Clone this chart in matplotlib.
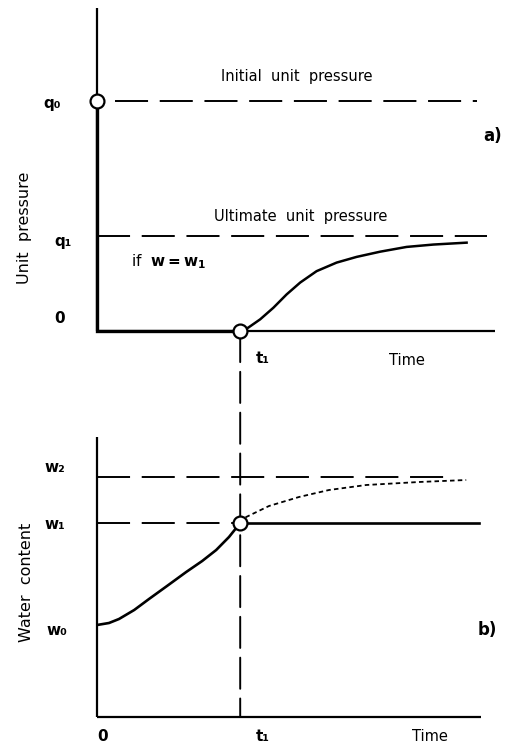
"""Consolidation sketch: unit pressure and water content against time."""
import matplotlib
matplotlib.use("Agg")
import matplotlib.pyplot as plt
from matplotlib.patches import ConnectionPatch

plt.rcParams["font.family"] = "DejaVu Sans"

# --- levels (arbitrary units)
T1 = 3.58
Q0 = 2.42
Q1 = 1.0
W0 = 0.92
W1 = 1.94
W2 = 2.40

# pressure rise after t1
p_time = [T1, 3.78, 4.08, 4.41, 4.74, 5.08, 5.49, 5.99, 6.49, 7.08, 7.74, 8.41, 9.24]
p_val = [0.0, 0.035, 0.123, 0.245, 0.385, 0.51, 0.63, 0.72, 0.78, 0.835, 0.885, 0.91, 0.93]

# water content rising from w0 to w1 before t1
w_time = [0.0, 0.3, 0.55, 0.93, 1.3, 1.75, 2.23, 2.63, 2.98, 3.3, T1]
w_val = [W0, 0.94, 0.98, 1.07, 1.18, 1.31, 1.45, 1.56, 1.67, 1.80, W1]

# water content that would keep rising towards w2 (dotted)
wd_time = [T1, 3.73, 4.3, 5.05, 5.8, 6.73, 8.05, 9.23]
wd_val = [W1, 2.0, 2.11, 2.20, 2.27, 2.32, 2.35, 2.37]

W_END = 9.55
DASH = (17, 6)

FW, FH = 507, 750
fig = plt.figure(figsize=(FW / 100, FH / 100), dpi=100)
ax_a = fig.add_axes([97 / FW, 1 - 331 / FH, 398 / FW, 323 / FH])
ax_b = fig.add_axes([97 / FW, 33 / FH, 384 / FW, 280 / FH])
ax_a.set_xlim(0, 9.95)
ax_a.set_ylim(0, 3.40)
ax_b.set_xlim(0, 9.6)
ax_b.set_ylim(0, 2.80)

for ax in (ax_a, ax_b):
    ax.set_xticks([])
    ax.set_yticks([])
    ax.patch.set_visible(False)  # let the t1 link show through
    for s in ("top", "right"):
        ax.spines[s].set_visible(False)
    for s in ("left", "bottom"):
        ax.spines[s].set_linewidth(1.6)
        ax.spines[s].set_capstyle("butt")

circ = dict(marker="o", ms=10, mfc="white", mec="black", mew=1.6, ls="none",
            zorder=6, clip_on=False)

# --- a) unit pressure: drops to zero at t=0, stays there until t1, then recovers
ax_a.plot([0, 0, T1], [Q0, 0, 0], color="black", lw=2.4,
          solid_joinstyle="miter", clip_on=False, zorder=4)
ax_a.plot(p_time, p_val, color="black", lw=1.8, zorder=4)
ax_a.plot([0.45, 9.5], [Q0, Q0], color="black", lw=1.4, dashes=DASH)
ax_a.plot([0, 9.75], [Q1, Q1], color="black", lw=1.4, dashes=DASH)
ax_a.plot([0], [Q0], **circ)
ax_a.plot([T1], [0], **circ)

ax_a.text(5.0, 2.68, "Initial  unit  pressure", ha="center", va="center", fontsize=10.5)
ax_a.text(5.08, 1.21, "Ultimate  unit  pressure", ha="center", va="center", fontsize=10.5)
ax_a.text(0.85, 0.73, r"if  $\mathbf{w = w_1}$", ha="left", va="center", fontsize=11)
ax_a.text(9.88, 2.05, "a)", ha="center", va="center", fontsize=12, fontweight="bold")

ya = ax_a.get_yaxis_transform()
for lab, lev, dx, dy in [("q₀", Q0, -26, -2), ("q₁", Q1, -18, -4), ("0", 0, -23, 9)]:
    ax_a.annotate(lab, xy=(0, lev), xycoords=ya, xytext=(dx, dy),
                  textcoords="offset points", ha="right", va="center",
                  fontsize=11, fontweight="bold")
xa = ax_a.get_xaxis_transform()
ax_a.annotate("t₁", xy=(T1, 0), xycoords=xa, xytext=(16, -20),
              textcoords="offset points", ha="center", va="center",
              fontsize=11, fontweight="bold")
ax_a.annotate("Time", xy=(7.75, 0), xycoords=xa, xytext=(0, -21),
              textcoords="offset points", ha="center", va="center", fontsize=10.5)

# --- b) water content
ax_b.plot(w_time, w_val, color="black", lw=1.9, zorder=4)
ax_b.plot([T1, W_END], [W1, W1], color="black", lw=1.9, zorder=4)
ax_b.plot(wd_time, wd_val, color="black", lw=1.3, dashes=(2.5, 1.8), zorder=3)
ax_b.plot([0, 8.8], [W2, W2], color="black", lw=1.4, dashes=DASH)
ax_b.plot([0, T1], [W1, W1], color="black", lw=1.4, dashes=DASH)
ax_b.plot([T1], [W1], **circ)

ax_b.text(9.75, 0.87, "b)", ha="center", va="center", fontsize=12, fontweight="bold")

yb = ax_b.get_yaxis_transform()
for lab, lev, dx, dy in [("w₂", W2, -23, 7), ("w₁", W1, -23, -1), ("w₀", W0, -21, -4)]:
    ax_b.annotate(lab, xy=(0, lev), xycoords=yb, xytext=(dx, dy),
                  textcoords="offset points", ha="right", va="center",
                  fontsize=11, fontweight="bold")
xb = ax_b.get_xaxis_transform()
for lab, t, dx, bold in [("0", 0, 4, True), ("t₁", T1, 16, True), ("Time", 8.33, 0, False)]:
    ax_b.annotate(lab, xy=(t, 0), xycoords=xb, xytext=(dx, -14),
                  textcoords="offset points", ha="center", va="center",
                  fontsize=11 if bold else 10.5,
                  fontweight="bold" if bold else "normal")

# t1 link between both panels, drawn underneath so the circles stay clean
link = ConnectionPatch(xyA=(T1, 0), coordsA=ax_a.transData,
                       xyB=(T1, 0), coordsB=ax_b.transData,
                       color="black", lw=1.4, linestyle=(0, (16, 5)), zorder=-1)
fig.add_artist(link)

fig.text(25 / FW, 1 - 228 / FH, "Unit  pressure", rotation=90,
         ha="center", va="center", fontsize=11.5)
fig.text(27 / FW, 1 - 582 / FH, "Water  content", rotation=90,
         ha="center", va="center", fontsize=11.5)

fig.savefig("out.png", dpi=100, facecolor="white")
